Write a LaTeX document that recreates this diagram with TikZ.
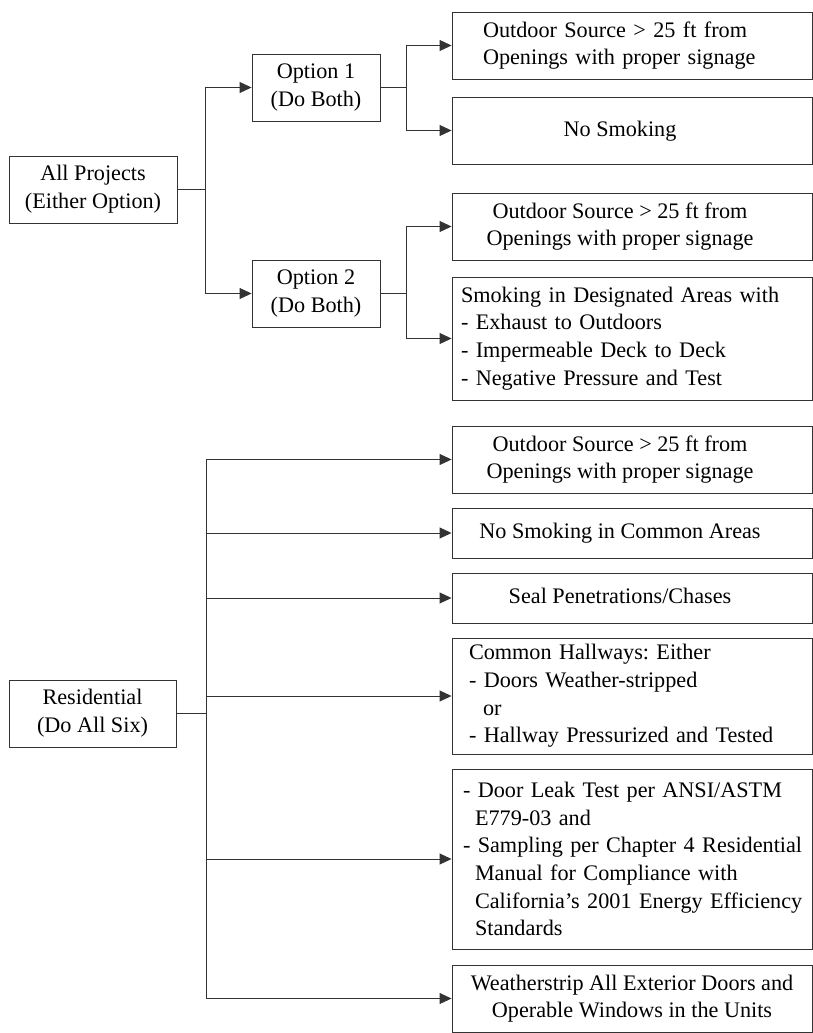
\documentclass[tikz,border=0pt]{standalone}
\usepackage{fontspec}
\setmainfont{Liberation Serif}
\usetikzlibrary{arrows.meta}
\newcommand{\shl}[1]{\begin{tabular}{@{}c@{\hspace{24pt}}}#1\end{tabular}}
\newcommand{\oneln}[1]{\mbox{#1}}
\begin{document}
\frenchspacing
\begin{tikzpicture}[x=1pt,y=-1pt,
  box/.style={draw=black!80,line width=0.9pt,inner sep=0pt,font=\fontsize{22.2}{27.7}\selectfont,minimum width=360pt},
  arr/.style={draw=black!80,line width=0.9pt,-{Triangle[length=12pt,width=11pt]}}]
\useasboundingbox (0,0) rectangle (813,1033);
\node[box,minimum width=168pt,minimum height=67pt,align=center] (ap) at (93,189.5) {All Projects\\(Either Option)};
\node[box,minimum width=128pt,minimum height=67pt,align=center] (o1) at (316,87.5) {Option 1\\(Do Both)};
\node[box,minimum width=128pt,minimum height=67pt,align=center] (o2) at (316,293.5) {Option 2\\(Do Both)};
\node[box,minimum height=67pt,align=left,text width=298pt,inner xsep=31pt] (b1) at (632,45.5) {\oneln{Outdoor Source > 25 ft from}\\\oneln{Openings with proper signage}};
\node[box,minimum height=67pt] (b2) at (632,130.5) {\shl{No Smoking}};
\node[box,minimum height=67pt] (b3) at (632,226.5) {\shl{Outdoor Source > 25 ft from\\Openings with proper signage}};
\node[box,minimum height=123pt,align=left,text width=342pt,inner xsep=9pt] (b4) at (632,338.5) {\oneln{Smoking in Designated Areas with}\\\oneln{- Exhaust to Outdoors}\\\oneln{- Impermeable Deck to Deck}\\\oneln{- Negative Pressure and Test}};
\node[box,minimum width=167pt,minimum height=67pt,align=center] (res) at (92.5,713.5) {Residential\\(Do All Six)};
\node[box,minimum height=67pt] (r1) at (632,459.5) {\shl{Outdoor Source > 25 ft from\\Openings with proper signage}};
\node[box,minimum height=50pt] (r2) at (632,533) {\shl{No Smoking in Common Areas}};
\node[box,minimum height=50pt] (r3) at (632,598) {\shl{Seal Penetrations/Chases}};
\node[box,minimum height=116pt,align=left,text width=326pt,inner xsep=17pt] (r4) at (632,696) {\oneln{Common Hallways: Either}\\\oneln{- Doors Weather-stripped}\\\oneln{\hspace*{14pt}or}\\\oneln{- Hallway Pressurized and Tested}};
\node[box,minimum height=180pt,align=left,text width=338pt,inner xsep=11pt] (r5) at (632,859) {\oneln{- Door Leak Test per ANSI/ASTM}\\\oneln{\hspace*{12pt}E779-03 and}\\\oneln{- Sampling per Chapter 4 Residential}\\\oneln{\hspace*{12pt}Manual for Compliance with}\\\oneln{\hspace*{12pt}California’s 2001 Energy Efficiency}\\\oneln{\hspace*{12pt}Standards}};
\node[box,minimum height=67pt,align=center] (r6) at (632,998.5) {Weatherstrip All Exterior Doors and\\Operable Windows in the Units};
\draw[arr] (ap.east) -- ++(28,0) |- (o1.west);
\draw[arr] (ap.east) -- ++(28,0) |- (o2.west);
\draw[arr] (o1.east) -- ++(26,0) |- (b1.west);
\draw[arr] (o1.east) -- ++(26,0) |- (b2.west);
\draw[arr] (o2.east) -- ++(26,0) |- (b3.west);
\draw[arr] (o2.east) -- ++(26,0) |- (b4.west);
\foreach \t in {r1,r2,r3,r4,r5,r6} \draw[arr] (res.east) -- ++(30,0) |- (\t.west);
\end{tikzpicture}
\end{document}
